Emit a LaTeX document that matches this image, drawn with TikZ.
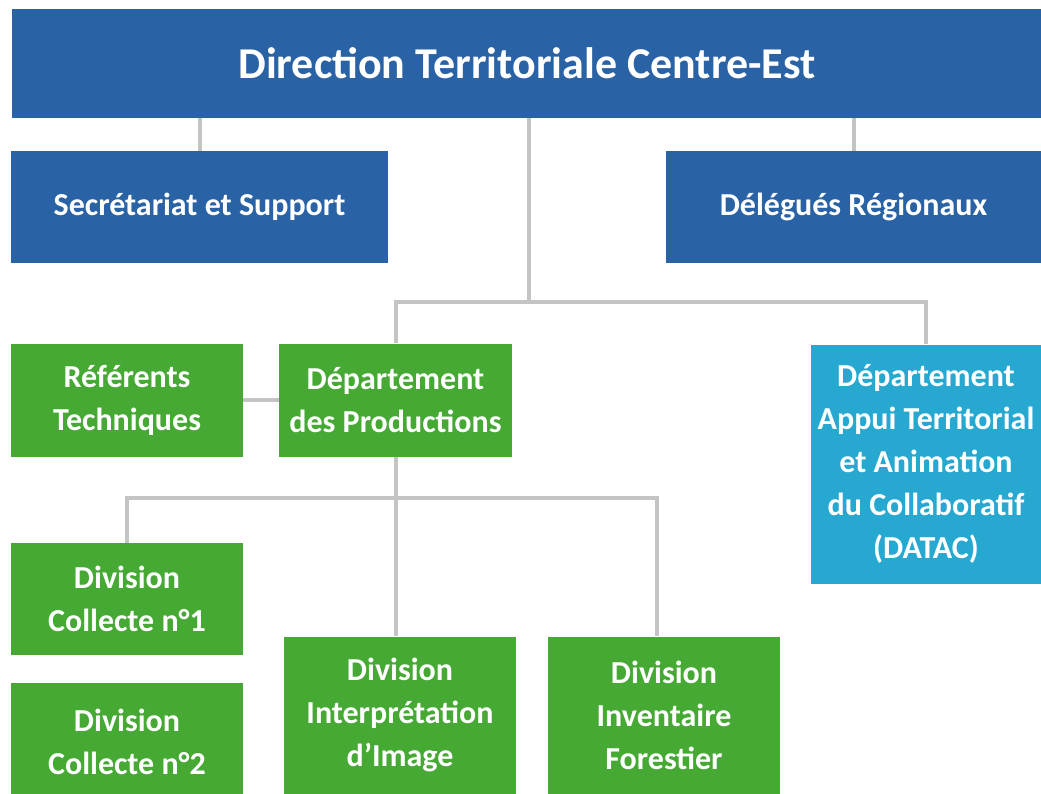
\documentclass[tikz,border=0pt]{standalone}
\usepackage{fontspec}
\setmainfont{Carlito}
\definecolor{dblue}{HTML}{2A62A6}
\definecolor{dgreen}{HTML}{45A933}
\definecolor{dcyan}{HTML}{26A8D1}
\definecolor{conngrey}{HTML}{C4C4C4}
\tikzset{
  orgbox/.style={fill=#1, draw=none, text=white, font=\bfseries\fontsize{32}{43}\selectfont,
    align=center, inner sep=0pt, anchor=center},
  conn/.style={draw=conngrey, line width=4pt, line join=miter},
}
\begin{document}
\begin{tikzpicture}[x=1pt,y=-1pt]
\useasboundingbox (0,0) rectangle (1041,793);
\clip (0,0) rectangle (1041,793);
\fill[white] (0,0) rectangle (1041,793);
% junction coordinates
\coordinate (j1) at (529,302);
\coordinate (j2) at (396,498);
\coordinate (j3) at (657,498);
% nodes
\node[orgbox=dblue, minimum width=1030pt, minimum height=109pt, font=\bfseries\fontsize{44}{50}\selectfont] (top) at (527,63.5) {Direction Territoriale Centre-Est};
\node[orgbox=dblue, minimum width=377pt, minimum height=112pt] (sec) at (199.5,207) {Secrétariat et Support};
\node[orgbox=dblue, minimum width=375pt, minimum height=112pt] (del) at (853.5,207) {Délégués Régionaux};
\node[orgbox=dgreen, minimum width=232pt, minimum height=113pt] (ref) at (127,400) {Référents\\Techniques};
\node[orgbox=dgreen, minimum width=233pt, minimum height=113pt] (dprod) at (395.5,400) {Département\\des Productions};
\node[orgbox=dcyan, minimum width=230pt, minimum height=239pt] (datac) at (926,464) {Département\\Appui Territorial\\et Animation\\du Collaboratif\\(DATAC)};
\node[orgbox=dgreen, minimum width=232pt, minimum height=112pt] (col1) at (127,599) {Division\\Collecte n°1};
\node[orgbox=dgreen, minimum width=232pt, minimum height=118pt] (col2) at (127,742) {Division\\Collecte n°2};
\node[orgbox=dgreen, minimum width=232pt, minimum height=157pt] (interp) at (400,715) {Division\\Interprétation\\d’Image};
\node[orgbox=dgreen, minimum width=232pt, minimum height=157pt] (invent) at (664,715) {Division\\Inventaire\\Forestier};
% connectors
\draw[conn] (top.south -| sec.north) -- (sec.north);
\draw[conn] (top.south -| del.north) -- (del.north);
\draw[conn] (top.south -| j1) -- (j1);
\draw[conn] (dprod.north) -- (dprod.north |- j1) -- (datac.north |- j1) -- (datac.north);
\draw[conn] (ref.east) -- (dprod.west);
\draw[conn] (dprod.south) -- (dprod.south |- interp.north);
\draw[conn] (col1.north) -- (col1.north |- j2) -- (j3) -- (j3 |- invent.north);
\end{tikzpicture}
\end{document}
